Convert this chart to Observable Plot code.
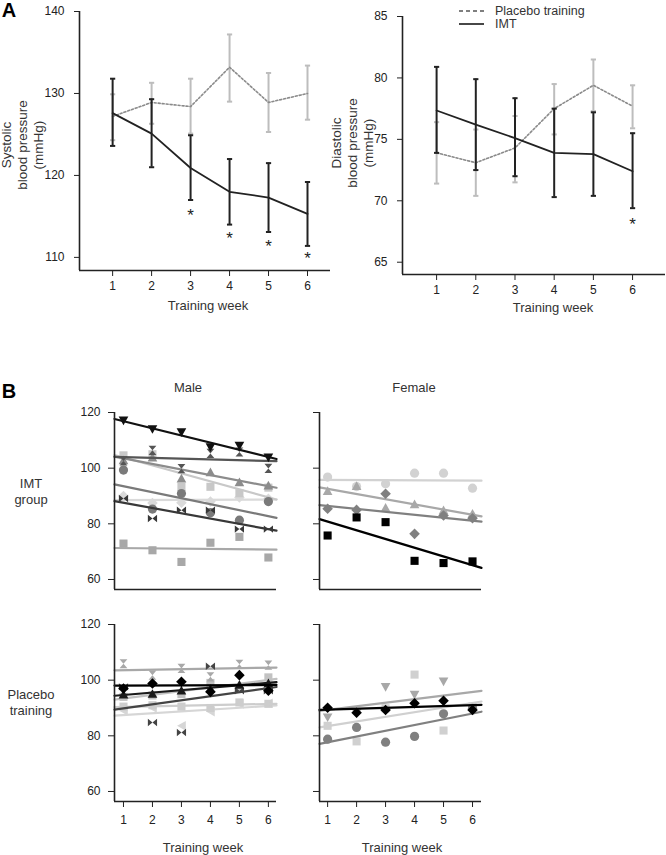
<!DOCTYPE html>
<html><head><meta charset="utf-8">
<script src="https://cdn.jsdelivr.net/npm/d3@7"></script>
<script src="https://cdn.jsdelivr.net/npm/@observablehq/plot@0.6"></script>
<style>
body{margin:0;background:#fff}
#fig{position:relative;width:666px;height:855px;overflow:hidden;background:#fff;font-family:"Liberation Sans",Arial,sans-serif;color:#222}
.t{position:absolute;white-space:nowrap;transform:translate(-50%,-50%);text-align:center}
.abs{position:absolute}
</style>
</head><body><div id="fig"></div>
<script>
// ---------- DATA ----------
const weeks = [1, 2, 3, 4, 5, 6];

// Panel A – systolic (mmHg)
const sbpTicks = [110, 120, 130, 140];
const sbpImt   = [127.6, 125.1, 120.9, 118.0, 117.3, 115.3];
const sbpImtLo = [123.6, 121.0, 117.0, 114.0, 113.1, 111.4];
const sbpImtHi = [131.8, 129.3, 124.9, 122.0, 121.5, 119.2];
const sbpPla   = [127.2, 128.9, 128.4, 133.2, 128.9, 130.0];
const sbpPlaLo = [124.3, 126.3, 125.1, 129.0, 125.3, 126.8];
const sbpPlaHi = [129.9, 131.3, 131.8, 137.2, 132.5, 133.4];
const sbpStarWeeks = [3, 4, 5, 6];
const sbpStarY = [115.6, 112.8, 111.8, 110.3];

// Panel A – diastolic (mmHg)
const dbpTicks = [65, 70, 75, 80, 85];
const dbpImt   = [77.35, 76.2, 75.1, 73.9, 73.8, 72.4];
const dbpImtLo = [73.9, 72.5, 72.0, 70.3, 70.4, 69.4];
const dbpImtHi = [80.9, 79.9, 78.35, 77.5, 77.2, 75.5];
const dbpPla   = [73.9, 73.1, 74.3, 77.5, 79.4, 77.7];
const dbpPlaLo = [71.4, 70.4, 71.5, 75.4, 77.3, 75.9];
const dbpPlaHi = [76.4, 75.8, 76.9, 79.5, 81.5, 79.4];
const dbpStarWeeks = [6];
const dbpStarY = [68.4];

// Panel B – individual values, one row per participant (weeks 1..6)
const bTicks = [60, 80, 100, 120];
const imtMale = [
  [72.9, 70.5, 66.3, 73.2, 75.3, 67.9],
  [90.0, 87.5, 87.6, 88.0, 89.5, 89.0],
  [104.6, 105.0, 93.3, 93.3, 91.0, 93.0],
  [99.3, 85.3, 90.9, 84.0, 81.3, 88.0],
  [103.0, 104.0, 96.4, 98.7, 95.1, 93.9],
  [102.6, 106.4, 99.8, 105.3, 105.8, 99.9],
  [89.1, 81.9, 84.9, 84.9, 78.1, 78.1],
  [117.0, 113.9, 112.8, 107.4, 107.9, 103.7]
];
const imtFemale = [
  [96.8, 93.4, 94.4, 98.2, 98.2, 92.8],
  [91.9, 93.7, 85.9, 87.2, 85.0, 83.8],
  [85.4, 85.0, 90.8, 76.4, 83.0, 82.0],
  [75.8, 82.3, 80.6, 66.7, 65.9, 66.5]
];
const placeboMale = [
  [89.0, 90.0, 83.6, 88.7, 91.5, 91.7],
  [90.5, 91.0, 90.5, 90.0, 92.0, 91.5],
  [94.0, 94.5, 95.0, 99.0, 97.0, 101.0],
  [105.9, 101.8, 104.2, 101.2, 105.7, 105.4],
  [97.6, 84.8, 81.2, 105.0, 96.2, 96.2],
  [95.0, 95.2, 96.4, 97.0, 98.5, 99.0],
  [97.0, 98.8, 99.4, 95.8, 101.8, 96.2]
];
const placeboFemale = [
  [83.6, 78.0, 89.9, 102.0, 81.9, 90.5],
  [86.5, 88.1, 97.4, 94.6, 99.4, 89.3],
  [78.8, 83.0, 77.7, 79.8, 87.9, 89.9],
  [90.1, 88.3, 89.3, 91.7, 92.6, 89.3]
];

// ---------- STYLES (kept apart from data) ----------
const imtMaleStyle = [
  ["square", "#a8a8a8"], ["diamond", "#dadada"], ["square", "#c8c8c8"], ["circle", "#7a7a7a"],
  ["triUp", "#8c8c8c"], ["hourglass", "#555555"], ["bowtie", "#383838"], ["triDown", "#111111"]
];
const imtFemaleStyle = [["circle", "#d2d2d2"], ["triUp", "#a8a8a8"], ["diamond", "#808080"], ["square", "#000000"]];
const placeboMaleStyle = [
  ["triLeft", "#d6d6d6"], ["square", "#cdcdcd"], ["square", "#c2c2c2"], ["hourglass", "#a8a8a8"],
  ["bowtie", "#444444"], ["triUp", "#1a1a1a"], ["diamond", "#000000"]
];
const placeboFemaleStyle = [["square", "#d0d0d0"], ["triDown", "#a8a8a8"], ["circle", "#808080"], ["diamond", "#000000"]];

// ---------- SYMBOLS ----------
const rs = s => Math.sqrt(s / Math.PI);
const shapes = {
  circle: "circle",
  square: {draw(c, s) { const r = rs(s) * 0.88; c.rect(-r, -r, 2 * r, 2 * r); }},
  diamond: {draw(c, s) { const r = rs(s) * 1.15; c.moveTo(0, -r); c.lineTo(r, 0); c.lineTo(0, r); c.lineTo(-r, 0); c.closePath(); }},
  triUp: {draw(c, s) { const r = rs(s) * 1.05; c.moveTo(0, -0.9 * r); c.lineTo(r, 0.9 * r); c.lineTo(-r, 0.9 * r); c.closePath(); }},
  triDown: {draw(c, s) { const r = rs(s) * 1.05; c.moveTo(0, 0.9 * r); c.lineTo(r, -0.9 * r); c.lineTo(-r, -0.9 * r); c.closePath(); }},
  triLeft: {draw(c, s) { const r = rs(s) * 1.05; c.moveTo(-0.9 * r, 0); c.lineTo(0.9 * r, -r); c.lineTo(0.9 * r, r); c.closePath(); }},
  hourglass: {draw(c, s) { const r = rs(s) * 1.0, w = r * 0.85;
    c.moveTo(-w, -r); c.lineTo(w, -r); c.lineTo(0, 0); c.closePath();
    c.moveTo(0, 0); c.lineTo(w, r); c.lineTo(-w, r); c.closePath(); }},
  bowtie: {draw(c, s) { const r = rs(s) * 1.0, h = r * 0.8;
    c.moveTo(-r, -h); c.lineTo(0, 0); c.lineTo(-r, h); c.closePath();
    c.moveTo(r, -h); c.lineTo(0, 0); c.lineTo(r, h); c.closePath(); }}
};
const capSym = {draw(c, s) { const r = rs(s); c.moveTo(-r, 0); c.lineTo(r, 0); }};

// ---------- HELPERS ----------
const fig = document.getElementById("fig");
const FONT = '"Liberation Sans", Arial, sans-serif';
const baseStyle = {fontFamily: FONT, fontSize: "12px", color: "#222", background: "transparent", overflow: "visible"};
function place(el, left, top) {
  el.style.position = "absolute"; el.style.left = left + "px"; el.style.top = top + "px";
  fig.appendChild(el);
}
function label(html, x, y, size = 13, extra = "") {
  const d = document.createElement("div");
  d.className = "t"; d.innerHTML = html;
  d.style.cssText += `left:${x}px;top:${y}px;font-size:${size}px;${extra}`;
  fig.appendChild(d);
  return d;
}
function fitLine(vals, xd) {
  const mx = d3.mean(weeks), my = d3.mean(vals);
  let sxy = 0, sxx = 0;
  weeks.forEach((w, i) => { sxy += (w - mx) * (vals[i] - my); sxx += (w - mx) ** 2; });
  const b = sxy / sxx, a = my - b * mx;
  return xd.map(x => ({x, y: a + b * x}));
}
function groupMarks(mean, lo, hi, isImt) {
  const barCol = isImt ? "#222" : "#bdbdbd";
  const marks = [
    Plot.ruleX(weeks, {x: d => d, y1: (d, i) => lo[i], y2: (d, i) => hi[i], stroke: barCol, strokeWidth: 2}),
    Plot.dot(weeks, {x: d => d, y: (d, i) => lo[i], symbol: capSym, r: 2.6, fill: "none", stroke: barCol, strokeWidth: 2}),
    Plot.dot(weeks, {x: d => d, y: (d, i) => hi[i], symbol: capSym, r: 2.6, fill: "none", stroke: barCol, strokeWidth: 2})
  ];
  marks.push(isImt
    ? Plot.line(weeks, {x: d => d, y: (d, i) => mean[i], stroke: "#222", strokeWidth: 1.8})
    : Plot.line(weeks, {x: d => d, y: (d, i) => mean[i], stroke: "#8a8a8a", strokeWidth: 1.6, strokeDasharray: "2,2"}));
  return marks;
}

// ---------- PANEL A ----------
const xDomAL = [0.15, 6.59], yDomSbp = [108.4, 140];
const AL = Plot.plot({
  width: 333, height: 320, marginLeft: 79, marginRight: 3, marginTop: 11, marginBottom: 50,
  x: {domain: xDomAL}, y: {domain: yDomSbp}, style: baseStyle,
  marks: [
    ...groupMarks(sbpPla, sbpPlaLo, sbpPlaHi, false),
    ...groupMarks(sbpImt, sbpImtLo, sbpImtHi, true),
    Plot.text(sbpStarWeeks, {x: d => d, y: (d, i) => sbpStarY[i], text: () => "*", fontSize: 17, dy: 4, fill: "#222"}),
    Plot.ruleX([xDomAL[0]], {stroke: "#222", strokeWidth: 1.6}),
    Plot.ruleY([yDomSbp[0]], {stroke: "#222", strokeWidth: 1.6}),
    Plot.axisY(sbpTicks, {tickSize: 5, tickPadding: 10, label: null, fontSize: 12}),
    Plot.axisX(weeks, {tickSize: 6, tickPadding: 5, label: null, fontSize: 12})
  ]
});
place(AL, 0, 0);

const xDomAR = [0.13, 6.84], yDomDbp = [64.0, 85];
const AR = Plot.plot({
  width: 333, height: 320, marginLeft: 69, marginRight: 1, marginTop: 16, marginBottom: 46,
  x: {domain: xDomAR}, y: {domain: yDomDbp}, style: baseStyle,
  marks: [
    ...groupMarks(dbpPla, dbpPlaLo, dbpPlaHi, false),
    ...groupMarks(dbpImt, dbpImtLo, dbpImtHi, true),
    Plot.text(dbpStarWeeks, {x: d => d, y: (d, i) => dbpStarY[i], text: () => "*", fontSize: 17, dy: 4, fill: "#222"}),
    Plot.ruleX([xDomAR[0]], {stroke: "#222", strokeWidth: 1.6}),
    Plot.ruleY([yDomDbp[0]], {stroke: "#222", strokeWidth: 1.6}),
    Plot.axisY(dbpTicks, {tickSize: 5, tickPadding: 10, label: null, fontSize: 12}),
    Plot.axisX(weeks, {tickSize: 6, tickPadding: 5, label: null, fontSize: 12})
  ]
});
place(AR, 333, 0);

// ---------- PANEL B ----------
const yDomB = [56.4, 120];
const xDomBL = [0.69, 6.28], xDomBR = [0.72, 6.31];
function panelB(values, styles, xDom, o) {
  const marks = [];
  values.forEach((vals, k) => {
    const [shape, col] = styles[k];
    marks.push(Plot.dot(weeks, {x: d => d, y: (d, i) => vals[i], symbol: shapes[shape], r: shape === "circle" ? 4.6 : 4.6, fill: col, stroke: "none"}));
    marks.push(Plot.line(fitLine(vals, xDom), {x: "x", y: "y", stroke: col, strokeWidth: 2.2}));
  });
  marks.push(Plot.ruleX([xDom[0]], {stroke: "#222", strokeWidth: 1.6}));
  marks.push(Plot.ruleY([yDomB[0]], {stroke: "#222", strokeWidth: 1.6}));
  marks.push(Plot.axisY(bTicks, {tickSize: 6, tickPadding: 8, label: null, fontSize: 12,
    tickFormat: o.yLabels ? (d => d) : (() => "")}));
  if (o.xAxis) marks.push(Plot.axisX(weeks, {tickSize: 6, tickPadding: 8, label: null, fontSize: 12}));
  return Plot.plot({
    width: o.width, height: o.height, marginLeft: o.ml, marginRight: o.mr, marginTop: 12, marginBottom: o.mb,
    x: o.xAxis ? {domain: xDom} : {domain: xDom, axis: null},
    y: {domain: yDomB}, style: baseStyle, marks
  });
}
place(panelB(imtMale, imtMaleStyle, xDomBL, {width: 300, height: 200, ml: 114, mr: 24, mb: 11, yLabels: true}), 0, 400);
place(panelB(imtFemale, imtFemaleStyle, xDomBR, {width: 200, height: 200, ml: 19, mr: 19, mb: 11, yLabels: false}), 300, 400);
place(panelB(placeboMale, placeboMaleStyle, xDomBL, {width: 300, height: 243, ml: 114, mr: 24, mb: 54, yLabels: true, xAxis: true}), 0, 612);
place(panelB(placeboFemale, placeboFemaleStyle, xDomBR, {width: 200, height: 243, ml: 19, mr: 19, mb: 54, yLabels: false, xAxis: true}), 300, 612);

// ---------- TEXT ----------
label("A", 9, 10, 20, "font-weight:bold;color:#000;line-height:20px");
label("B", 9, 391, 20, "font-weight:bold;color:#000;line-height:20px");
label("Systolic<br>blood pressure<br>(mmHg)", 23, 145, 13.5, "line-height:16px;transform:translate(-50%,-50%) rotate(-90deg);color:#333");
label("Diastolic<br>blood pressure<br>(mmHg)", 353, 143, 13.5, "line-height:16px;transform:translate(-50%,-50%) rotate(-90deg);color:#333");
label("Training week", 208, 305, 13, "color:#333");
label("Training week", 553, 307, 13, "color:#333");
label("Male", 188, 387, 13, "color:#333");
label("Female", 414, 387, 13, "color:#333");
label("IMT<br>group", 31, 492, 13, "line-height:16px;color:#333");
label("Placebo<br>training", 31, 703, 13, "line-height:16px;color:#333");
label("Training week", 203, 847, 13, "color:#333");
label("Training week", 402, 847, 13, "color:#333");

// legend
const leg = document.createElement("div");
leg.className = "abs"; leg.style.cssText += "left:459px;top:2px;width:150px;height:30px";
leg.innerHTML = `<svg width="26" height="30" style="position:absolute;left:0;top:0">
<line x1="0" x2="25" y1="9" y2="9" stroke="#555" stroke-width="1.6" stroke-dasharray="4,3"/>
<line x1="0" x2="25" y1="22" y2="22" stroke="#333" stroke-width="1.8"/></svg>`;
fig.appendChild(leg);
label("Placebo training", 495, 11, 12.5, "transform:translate(0,-50%);text-align:left;color:#333");
label("IMT", 495, 24, 12.5, "transform:translate(0,-50%);text-align:left;color:#333");
</script>
</body></html>
